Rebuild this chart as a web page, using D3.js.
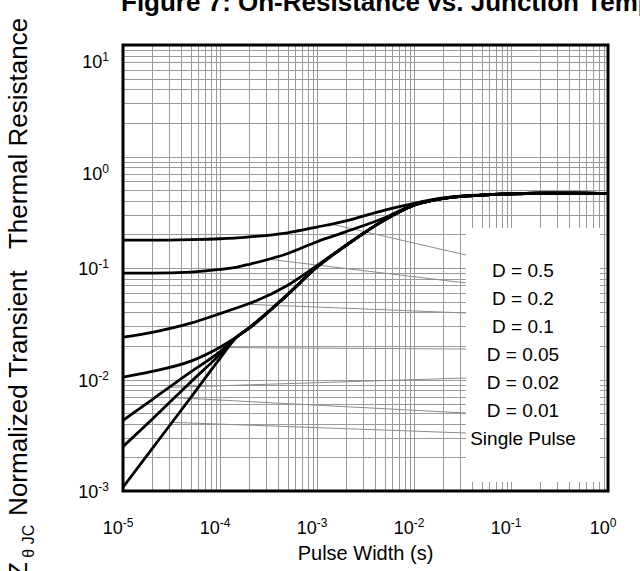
<!DOCTYPE html>
<html>
<head>
<meta charset="utf-8">
<script src="https://cdn.jsdelivr.net/npm/d3@7"></script>
<style>
  body { margin: 0; background: #fff; }
  svg { display: block; font-family: Arial, "Liberation Sans", sans-serif; }
</style>
</head>
<body>
<div class="chart"></div>
<script>
var pulseWidths = [1e-5, 2e-5, 5e-5, 1e-4, 1.5e-4, 2e-4, 5e-4, 1e-3, 2e-3, 5e-3, 1e-2, 2e-2, 5e-2, 1e-1, 2e-1, 5e-1, 1];

// normalized transient thermal resistance for each duty cycle
var zD05    = [0.178, 0.178, 0.180, 0.183, 0.186, 0.190, 0.207, 0.233, 0.265, 0.330, 0.380, 0.425, 0.452, 0.462, 0.468, 0.470, 0.466];
var zD02    = [0.090, 0.090, 0.092, 0.097, 0.102, 0.108, 0.135, 0.172, 0.212, 0.282, 0.370, 0.422, 0.451, 0.462, 0.468, 0.470, 0.466];
var zD01    = [0.024, 0.0265, 0.032, 0.039, 0.044, 0.048, 0.070, 0.105, 0.160, 0.270, 0.365, 0.420, 0.450, 0.462, 0.468, 0.470, 0.466];
var zD005   = [0.0105, 0.0118, 0.0146, 0.0195, 0.0242, 0.0292, 0.058, 0.102, 0.160, 0.270, 0.365, 0.420, 0.450, 0.462, 0.468, 0.470, 0.466];
var zD002   = [0.0043, 0.0066, 0.0117, 0.0178, 0.0242, 0.0290, 0.058, 0.102, 0.160, 0.270, 0.365, 0.420, 0.450, 0.462, 0.468, 0.470, 0.466];
var zD001   = [0.0025, 0.0044, 0.0095, 0.0168, 0.0242, 0.0289, 0.058, 0.102, 0.160, 0.270, 0.365, 0.420, 0.450, 0.462, 0.468, 0.470, 0.466];
var zSingle = [0.00108, 0.0024, 0.0069, 0.0155, 0.0242, 0.0288, 0.058, 0.102, 0.160, 0.270, 0.365, 0.420, 0.450, 0.462, 0.468, 0.470, 0.466];

var seriesNames = ["D = 0.5", "D = 0.2", "D = 0.1", "D = 0.05", "D = 0.02", "D = 0.01", "Single Pulse"];
var seriesValues = [zD05, zD02, zD01, zD005, zD002, zD001, zSingle];

// pulse width where each label's pointer line touches its curve
var leaderPulse = [1.4e-3, 3.1e-4, 1.9e-4, 9.8e-5, 3.0e-5, 3.4e-5, 3.2e-5];

var xTickExps = [-5, -4, -3, -2, -1, 0];
var yTickExps = [1, 0, -1, -2, -3];

var titleText = "Figure 7: On-Resistance vs. Junction Temperature";
var xTitle = "Pulse Width (s)";

var svgWidth = 640;
var svgHeight = 571;

var margin = { top: 45, right: 32, bottom: 80, left: 123 };
var width = svgWidth - margin.left - margin.right;
var height = svgHeight - margin.top - margin.bottom;

var svg = d3.select(".chart")
  .append("svg")
  .attr("width", svgWidth)
  .attr("height", svgHeight);

// scales
var xScale = d3.scaleLog()
  .domain([1e-5, 1])
  .range([margin.left, margin.left + width]);

var yScale = d3.scaleLog()
  .domain([1e-3, 10])
  .range([margin.top + height, margin.top]);

// grid lines
var grid = svg.append("g").attr("stroke", "#9a9a9a").attr("stroke-width", 1);

grid.selectAll(".vgrid")
  .data(xScale.ticks())
  .enter()
  .append("line")
  .attr("x1", d => Math.round(xScale(d)) + 0.5)
  .attr("x2", d => Math.round(xScale(d)) + 0.5)
  .attr("y1", margin.top)
  .attr("y2", margin.top + height);

grid.selectAll(".hgrid")
  .data(yScale.ticks())
  .enter()
  .append("line")
  .attr("x1", margin.left)
  .attr("x2", margin.left + width)
  .attr("y1", d => Math.round(yScale(d)) + 0.5)
  .attr("y2", d => Math.round(yScale(d)) + 0.5);

// legend box covering the grid
var legendBox = { x: 466, y: 228, w: 134, h: 254 };
svg.append("rect")
  .attr("x", legendBox.x)
  .attr("y", legendBox.y)
  .attr("width", legendBox.w)
  .attr("height", legendBox.h)
  .attr("fill", "#fff");

var rowY = d3.scaleLinear().domain([0, 1]).range([270, 298]);
var leaderEndY = [255, 283, 313, 349, 378, 413, 433];

// interpolate a curve in log-log space
function valueAt(values, t) {
  var lt = Math.log10(t);
  for (var i = 0; i < pulseWidths.length - 1; i++) {
    var a = Math.log10(pulseWidths[i]);
    var b = Math.log10(pulseWidths[i + 1]);
    if (lt >= a && lt <= b) {
      var f = (lt - a) / (b - a);
      return Math.pow(10, Math.log10(values[i]) + f * (Math.log10(values[i + 1]) - Math.log10(values[i])));
    }
  }
  return values[values.length - 1];
}

// pointer lines from the labels to the curves
svg.append("g")
  .selectAll("line")
  .data(seriesValues)
  .enter()
  .append("line")
  .attr("x1", (d, i) => xScale(leaderPulse[i]))
  .attr("y1", (d, i) => yScale(valueAt(d, leaderPulse[i])))
  .attr("x2", legendBox.x)
  .attr("y2", (d, i) => leaderEndY[i])
  .attr("stroke", "#8c8c8c")
  .attr("stroke-width", 1);

// curves
var line = d3.line()
  .x((d, i) => xScale(pulseWidths[i]))
  .y(d => yScale(d))
  .curve(d3.curveMonotoneX);

svg.append("g")
  .selectAll("path")
  .data(seriesValues)
  .enter()
  .append("path")
  .attr("d", line)
  .attr("fill", "none")
  .attr("stroke", "#000")
  .attr("stroke-width", 2.8)
  .attr("stroke-linejoin", "round");

// legend labels
svg.append("g")
  .selectAll("text")
  .data(seriesNames)
  .enter()
  .append("text")
  .attr("x", 523)
  .attr("y", (d, i) => rowY(i))
  .attr("dy", "0.35em")
  .attr("text-anchor", "middle")
  .attr("font-size", 19)
  .text(d => d);

// plot border
svg.append("rect")
  .attr("x", margin.left)
  .attr("y", margin.top)
  .attr("width", width)
  .attr("height", height)
  .attr("fill", "none")
  .attr("stroke", "#000")
  .attr("stroke-width", 3);

// tick labels, 10 with a raised exponent
function powerLabel(sel) {
  sel.text("10");
  sel.append("tspan")
    .attr("dy", -7)
    .attr("font-size", 12)
    .text(d => d);
}

svg.append("g")
  .selectAll("text")
  .data(xTickExps)
  .enter()
  .append("text")
  .attr("x", d => xScale(Math.pow(10, d)) - 5)
  .attr("y", 534)
  .attr("text-anchor", "middle")
  .attr("font-size", 18)
  .call(powerLabel);

// the two upper labels sit a little below their grid lines in the original
svg.append("g")
  .selectAll("text")
  .data(yTickExps)
  .enter()
  .append("text")
  .attr("x", 109)
  .attr("y", d => yScale(Math.pow(10, d)) + (d >= 0 ? 23 : 7))
  .attr("text-anchor", "end")
  .attr("font-size", 18)
  .call(powerLabel);

// axis titles
svg.append("text")
  .attr("x", margin.left + width / 2)
  .attr("y", 560)
  .attr("text-anchor", "middle")
  .attr("font-size", 20)
  .text(xTitle);

var yTitle = svg.append("text")
  .attr("transform", "translate(27, 578) rotate(-90)")
  .attr("font-size", 26)
  .attr("xml:space", "preserve");
yTitle.append("tspan").text("Z");
yTitle.append("tspan").attr("font-size", 16).attr("dy", 7).text(" \u03b8 JC  ");
yTitle.append("tspan").attr("dy", -7).text("Normalized Transient   Thermal Resistance");

// figure title, clipped by the top edge
svg.append("text")
  .attr("x", 121)
  .attr("y", 11)
  .attr("font-size", 26)
  .attr("font-weight", "bold")
  .text(titleText);
</script>
</body>
</html>
